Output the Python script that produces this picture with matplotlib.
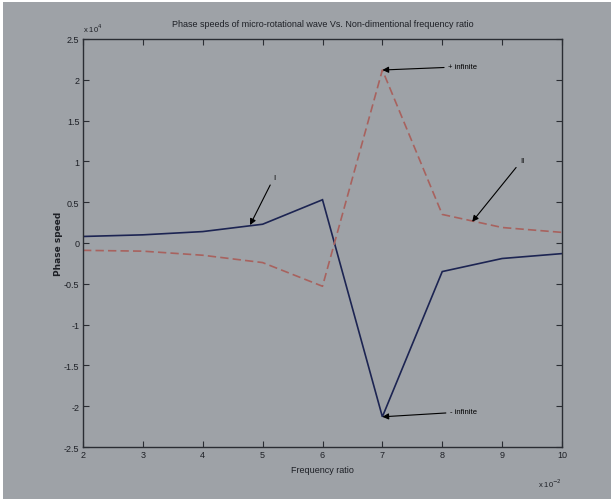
import matplotlib
matplotlib.use("Agg")
import matplotlib.pyplot as plt
from matplotlib.patches import Rectangle

# Data (x in units of 1e-2, y in units of 1e4)
freq_ratio = [2, 3, 4, 5, 6, 7, 8, 9, 10]
speed_I = [0.08, 0.10, 0.14, 0.23, 0.53, -2.13, -0.35, -0.19, -0.13]
speed_II = [-0.09, -0.10, -0.15, -0.24, -0.53, 2.12, 0.35, 0.19, 0.13]
x_ticks = [2, 3, 4, 5, 6, 7, 8, 9, 10]
y_ticks = [-2.5, -2, -1.5, -1, -0.5, 0, 0.5, 1, 1.5, 2, 2.5]
y_tick_labels = ["-2.5", "-2", "-1.5", "-1", "-0.5", "0", "0.5", "1", "1.5", "2", "2.5"]

bg = "#9ea2a7"
fam = ["Liberation Sans Narrow", "Liberation Sans", "DejaVu Sans"]
plt.rcParams["font.family"] = fam

fig = plt.figure(figsize=(6.14, 5.02), dpi=100)
fig.patch.set_facecolor("white")
fig.patches.append(Rectangle((3 / 614, 2 / 502), 608 / 614, 497 / 502,
                             transform=fig.transFigure, facecolor=bg,
                             edgecolor="none", zorder=-10))

ax = fig.add_axes([83 / 614, 54 / 502, 479 / 614, 408 / 502])
ax.set_facecolor(bg)

ax.plot(freq_ratio, speed_I, color="#1c2452", lw=1.2, solid_joinstyle="miter")
ax.plot(freq_ratio, speed_II, color="#a8625e", lw=1.2, ls=(0, (5, 2.5)))

ax.set_xlim(2, 10)
ax.set_ylim(-2.5, 2.5)
ax.set_xticks(x_ticks)
ax.set_xticklabels([str(v) for v in x_ticks])
ax.set_yticks(y_ticks)
ax.set_yticklabels(y_tick_labels)
ax.tick_params(direction="in", length=4, width=0.8, color="#2a2d33",
               labelsize=6.5, labelcolor="#1e2026", top=True, right=True, pad=2.5)
for s in ax.spines.values():
    s.set_color("#2a2d33")
    s.set_linewidth(1.0)

ax.set_title("Phase speeds of micro-rotational wave Vs. Non-dimentional frequency ratio",
             fontsize=6.5, color="#1e2026", pad=9)
ax.set_xlabel("Frequency ratio", fontsize=6.5, color="#1e2026", labelpad=4)
ax.set_ylabel("Phase speed", fontsize=6.5, color="#1e2026", fontweight="bold",
              family=["DejaVu Sans"], labelpad=1)

ax.text(0.0, 1.012, r"x 10$^4$", transform=ax.transAxes, fontsize=5.5,
        color="#1e2026", ha="left", va="bottom")
ax.text(0.975, -0.072, r"x 10$^{-2}$", transform=ax.transAxes, fontsize=5.5,
        color="#1e2026", ha="center", va="top")

ap = dict(arrowstyle="-|>", color="black", lw=0.8, mutation_scale=9,
          shrinkA=1, shrinkB=0)
ax.annotate("+ infinite", xy=(7.0, 2.12), xytext=(8.1, 2.16), fontsize=5.5,
            ha="left", va="center", arrowprops=ap)
ax.annotate("- infinite", xy=(7.0, -2.13), xytext=(8.13, -2.07), fontsize=5.5,
            ha="left", va="center", arrowprops=ap)
ax.annotate("I", xy=(4.79, 0.22), xytext=(5.19, 0.76), fontsize=5.5,
            ha="center", va="bottom", arrowprops=ap)
ax.annotate("II", xy=(8.5, 0.26), xytext=(9.33, 0.97), fontsize=5.5,
            ha="center", va="bottom", arrowprops=ap)

fig.savefig("out.png", dpi=100, facecolor=fig.get_facecolor())
